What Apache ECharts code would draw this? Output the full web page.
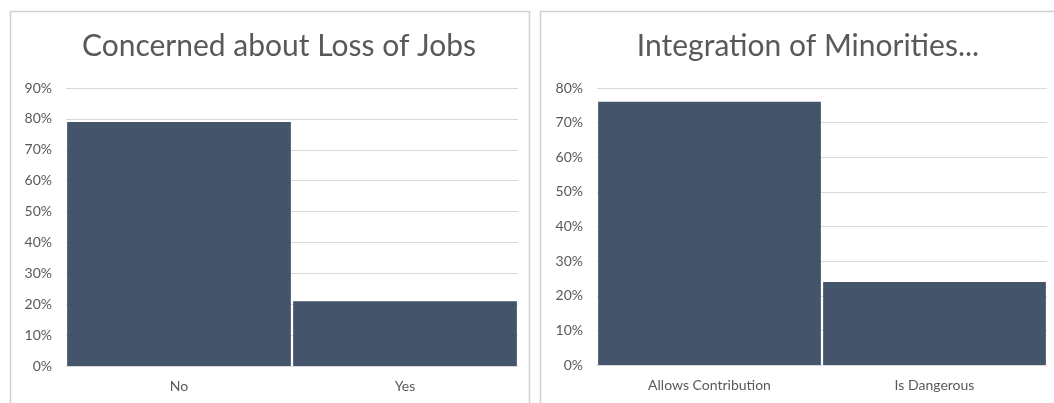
<!DOCTYPE html>
<html>
<head>
<meta charset="utf-8">
<script src="https://cdn.jsdelivr.net/npm/echarts@6/dist/echarts.min.js"></script>
<style>
  html, body { margin: 0; padding: 0; background: #fff; }
  #chart { width: 1054px; height: 403px; }
</style>
</head>
<body>
<div id="chart"></div>
<script>
// Survey answers, shown as shares of respondents
const jobsTitle = 'Concerned about Loss of Jobs';
const jobsCategories = ['No', 'Yes'];
const jobsValues = [0.79, 0.21];

const minoritiesTitle = 'Integration of Minorities...';
const minoritiesCategories = ['Allows Contribution', 'Is Dangerous'];
const minoritiesValues = [0.76, 0.24];

const FONT = 'Lato, "Open Sans", sans-serif';
const TEXT = '#595959';
const GRID = '#D9D9D9';
const BAR = '#44546A';

const pct = v => Math.round(v * 100) + '%';

function xAxis(gridIndex, cats) {
  return {
    type: 'category', gridIndex, data: cats,
    axisLine: { lineStyle: { color: GRID } },
    axisTick: { show: false },
    axisLabel: { color: TEXT, fontFamily: FONT, fontSize: 14, margin: 13 }
  };
}
function yAxis(gridIndex, max) {
  return {
    type: 'value', gridIndex, min: 0, max, interval: 0.1,
    axisLine: { show: false }, axisTick: { show: false },
    splitLine: { lineStyle: { color: GRID } },
    axisLabel: { color: TEXT, fontFamily: FONT, fontSize: 14, margin: 14, formatter: pct }
  };
}
function bars(idx, values) {
  return {
    type: 'bar', xAxisIndex: idx, yAxisIndex: idx, data: values,
    barCategoryGap: '1%', itemStyle: { color: BAR }, silent: true
  };
}

const chart = echarts.init(document.getElementById('chart'));
const titleStyle = { color: TEXT, fontFamily: FONT, fontSize: 30, fontWeight: 'normal' };
chart.setOption({
  animation: false,
  backgroundColor: '#fff',
  title: [
    { text: jobsTitle, left: 274, top: 26, textAlign: 'center', textStyle: titleStyle },
    { text: minoritiesTitle, left: 803, top: 26, textAlign: 'center', textStyle: titleStyle }
  ],
  graphic: [
    { type: 'rect', shape: { x: 10.5, y: 11.5, width: 519, height: 420 },
      style: { fill: 'none', stroke: '#D0D0D0', lineWidth: 1.5 }, silent: true, z: -1 },
    { type: 'rect', shape: { x: 540.5, y: 11.5, width: 540, height: 420 },
      style: { fill: 'none', stroke: '#D0D0D0', lineWidth: 1.5 }, silent: true, z: -1 }
  ],
  grid: [
    { left: 66, right: 536, top: 88, bottom: 37 },
    { left: 597, right: 7, top: 88, bottom: 38 }
  ],
  xAxis: [xAxis(0, jobsCategories), xAxis(1, minoritiesCategories)],
  yAxis: [yAxis(0, 0.9), yAxis(1, 0.8)],
  series: [bars(0, jobsValues), bars(1, minoritiesValues)]
});
</script>
</body>
</html>
